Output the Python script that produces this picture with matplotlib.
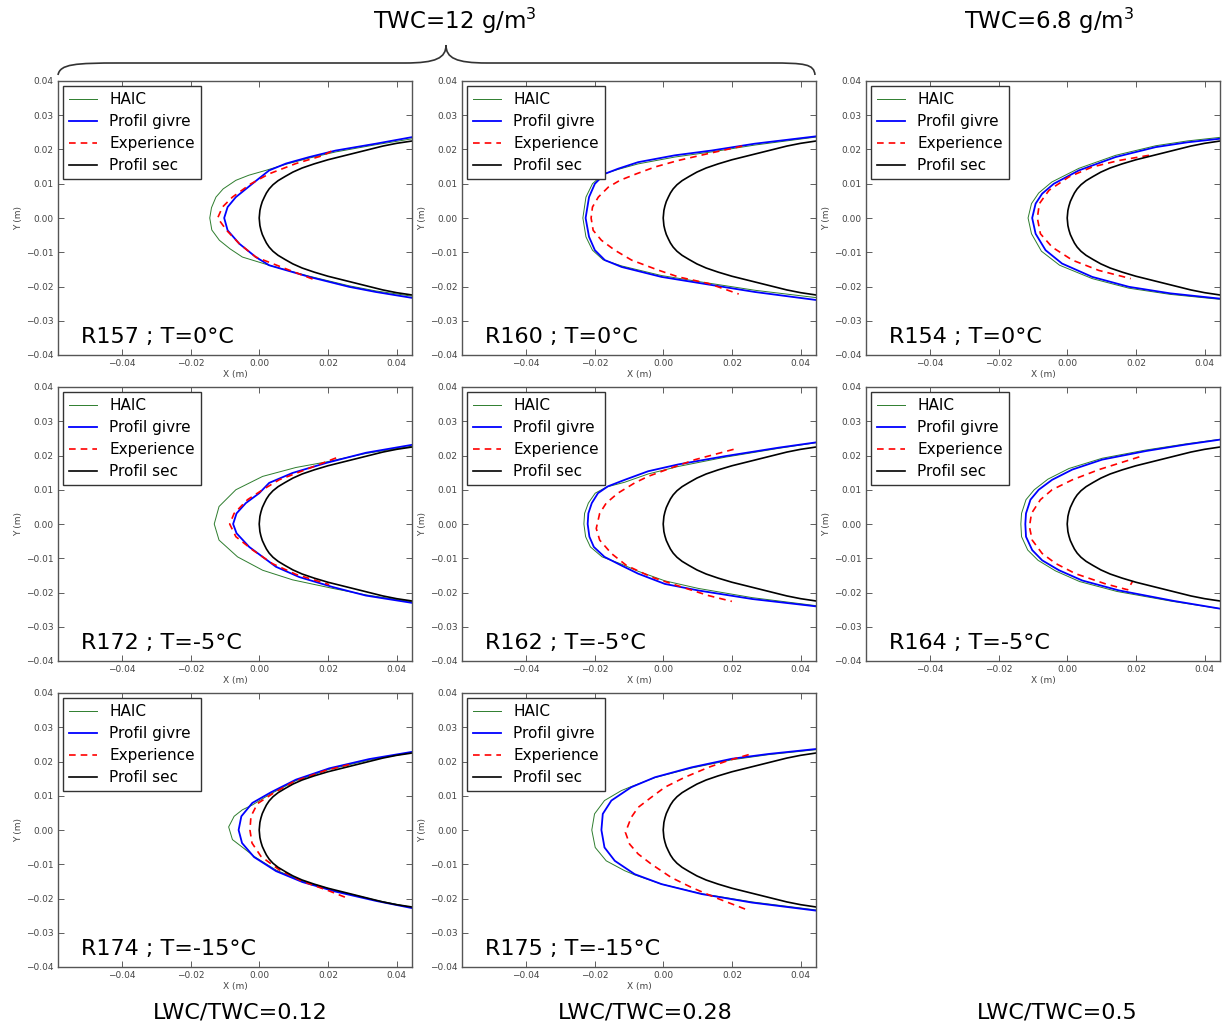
import matplotlib
matplotlib.use("Agg")
import matplotlib.pyplot as plt
from matplotlib.path import Path
from matplotlib.patches import PathPatch
from matplotlib.ticker import FuncFormatter, MultipleLocator

# ---------------- data (x, y) in metres ----------------
PROFIL_SEC = [(0.046, 0.0227), (0.040, 0.0218), (0.036, 0.0210), (0.032, 0.0200), (0.028, 0.0190),
              (0.024, 0.0180), (0.020, 0.0170), (0.016, 0.0158), (0.0125, 0.0146), (0.0098, 0.0134),
              (0.0075, 0.0121), (0.0055, 0.0109), (0.004, 0.0097), (0.0029, 0.0085), (0.0021, 0.0073),
              (0.0015, 0.0061), (0.0009, 0.0048), (0.0005, 0.0035), (0.0002, 0.0022), (0.0, 0.0),
              (0.0002, -0.0022), (0.0005, -0.0035), (0.0009, -0.0048), (0.0015, -0.0061),
              (0.0021, -0.0073), (0.0029, -0.0085), (0.004, -0.0097), (0.0055, -0.0109),
              (0.0075, -0.0121), (0.0098, -0.0134), (0.0125, -0.0146), (0.016, -0.0158),
              (0.020, -0.0170), (0.024, -0.0180), (0.028, -0.0190), (0.032, -0.0200),
              (0.036, -0.0210), (0.040, -0.0218), (0.046, -0.0227)]

R157_HAIC = [(0.045, 0.0232), (0.034, 0.0214), (0.0223, 0.0193), (0.0146, 0.0175), (0.0078, 0.0157),
             (0.0019, 0.0139), (-0.0030, 0.0125), (-0.0068, 0.011), (-0.0105, 0.0085), (-0.0126, 0.0061),
             (-0.0139, 0.003), (-0.0144, 0.0), (-0.0138, -0.0035), (-0.0116, -0.0065), (-0.0085, -0.009),
             (-0.0049, -0.0114), (0.0029, -0.0138), (0.0146, -0.017), (0.0262, -0.0198), (0.034, -0.0213),
             (0.045, -0.0229)]
R157_GIVRE = [(0.045, 0.0237), (0.034, 0.0217), (0.0223, 0.0197), (0.0146, 0.0178), (0.0078, 0.0159),
              (0.0029, 0.0139), (-0.002, 0.010), (-0.0068, 0.0061), (-0.0092, 0.0032), (-0.0102, 0.0),
              (-0.0092, -0.0036), (-0.0058, -0.0075), (-0.001, -0.0114), (0.0029, -0.0138),
              (0.0146, -0.0172), (0.0262, -0.0201), (0.034, -0.0216), (0.045, -0.0234)]
R157_EXP = [(0.021, 0.0195), (0.0184, 0.0182), (0.0107, 0.0159), (0.0029, 0.0129), (-0.0024, 0.010),
            (-0.0078, 0.0061), (-0.0107, 0.0032), (-0.0121, 0.0), (-0.0095, -0.0036), (-0.0058, -0.0075),
            (-0.001, -0.0114), (0.0087, -0.0152), (0.016, -0.0180)]

R160_HAIC = [(0.045, 0.0237), (0.0267, 0.0213), (0.0141, 0.0193), (0.0034, 0.0178), (-0.0073, 0.0158),
             (-0.0131, 0.0142), (-0.0175, 0.0128), (-0.0206, 0.010), (-0.0225, 0.0061), (-0.0234, 0.0),
             (-0.0225, -0.0055), (-0.0206, -0.0094), (-0.0175, -0.0122), (-0.0121, -0.0140),
             (-0.0005, -0.0168), (0.0112, -0.0187), (0.0267, -0.0211), (0.045, -0.0233)]
R160_GIVRE = [(0.045, 0.0239), (0.0267, 0.0217), (0.0141, 0.0197), (0.0034, 0.0183), (-0.0073, 0.0163),
              (-0.0131, 0.0144), (-0.017, 0.0129), (-0.0199, 0.010), (-0.0216, 0.0061), (-0.0226, 0.0),
              (-0.0216, -0.0055), (-0.0199, -0.0094), (-0.017, -0.0123), (-0.0121, -0.0143),
              (-0.0005, -0.0172), (0.0112, -0.0191), (0.0267, -0.0216), (0.045, -0.0240)]
R160_EXP = [(0.023, 0.021), (0.0131, 0.0188), (0.0044, 0.0168), (-0.0024, 0.0149), (-0.0078, 0.0129),
            (-0.0126, 0.011), (-0.016, 0.009), (-0.0189, 0.0061), (-0.0206, 0.0032), (-0.021, 0.0),
            (-0.0204, -0.0036), (-0.018, -0.0065), (-0.0141, -0.0094), (-0.0092, -0.0123),
            (-0.0015, -0.0152), (0.0044, -0.0172), (0.0131, -0.0191), (0.022, -0.0222)]

R154_HAIC = [(0.045, 0.0236), (0.035, 0.0225), (0.0258, 0.0211), (0.0141, 0.0183), (0.0034, 0.0145),
             (-0.0045, 0.0105), (-0.0083, 0.0073), (-0.0104, 0.0042), (-0.0114, 0.0), (-0.0104, -0.0046),
             (-0.0075, -0.0097), (-0.0022, -0.0138), (0.0073, -0.0177), (0.018, -0.0205),
             (0.030, -0.0223), (0.045, -0.0238)]
R154_GIVRE = [(0.045, 0.0232), (0.035, 0.0221), (0.0258, 0.0207), (0.0141, 0.0178), (0.0034, 0.0139),
              (-0.0039, 0.010), (-0.0073, 0.0071), (-0.0092, 0.0042), (-0.0102, 0.0), (-0.0092, -0.0046),
              (-0.0063, -0.0094), (-0.0015, -0.0133), (0.0073, -0.0172), (0.018, -0.0201),
              (0.030, -0.0220), (0.045, -0.0236)]
R154_EXP = [(0.0238, 0.0183), (0.0151, 0.0168), (0.0073, 0.0149), (0.0005, 0.012), (-0.0053, 0.0081),
            (-0.0081, 0.0042), (-0.0087, 0.0), (-0.0078, -0.0046), (-0.0044, -0.0085), (0.0015, -0.0123),
            (0.0092, -0.0153), (0.0185, -0.0177)]

R172_HAIC = [(0.045, 0.0228), (0.0311, 0.0206), (0.0194, 0.0181), (0.0107, 0.0165), (0.001, 0.0139),
             (-0.0068, 0.010), (-0.0117, 0.0051), (-0.0131, 0.0), (-0.0117, -0.0047), (-0.0063, -0.0096),
             (0.001, -0.0135), (0.0097, -0.0163), (0.0214, -0.0188), (0.0311, -0.0207), (0.045, -0.0228)]
R172_GIVRE = [(0.045, 0.0232), (0.0311, 0.0208), (0.0194, 0.0178), (0.0097, 0.0149), (0.0029, 0.012),
              (0.0, 0.009), (-0.0039, 0.0061), (-0.0066, 0.0031), (-0.0076, 0.0), (-0.0066, -0.0027),
              (-0.0029, -0.0067), (0.001, -0.0096), (0.0049, -0.0125), (0.0117, -0.0155),
              (0.0214, -0.0184), (0.0311, -0.0209), (0.045, -0.0231)]
R172_EXP = [(0.0224, 0.0193), (0.0136, 0.0159), (0.0058, 0.0129), (0.001, 0.010), (-0.0034, 0.0071),
            (-0.0073, 0.0031), (-0.0086, 0.0), (-0.0068, -0.0037), (-0.0019, -0.0076), (0.0039, -0.0116),
            (0.0107, -0.0147), (0.0204, -0.0177)]

R162_HAIC = [(0.045, 0.0238), (0.0337, 0.0221), (0.018, 0.0195), (0.0044, 0.0168), (-0.0044, 0.0146),
             (-0.0112, 0.0122), (-0.0165, 0.0108), (-0.0198, 0.009), (-0.0218, 0.0061), (-0.0229, 0.0031),
             (-0.0231, 0.0), (-0.0226, -0.0037), (-0.0212, -0.0067), (-0.0178, -0.0096),
             (-0.0122, -0.0117), (-0.0073, -0.0138), (0.0005, -0.0166), (0.0102, -0.0188),
             (0.0259, -0.0215), (0.045, -0.0239)]
R162_GIVRE = [(0.045, 0.0239), (0.0337, 0.0223), (0.018, 0.0198), (0.0044, 0.0174), (-0.0044, 0.0154),
              (-0.0112, 0.0129), (-0.0161, 0.011), (-0.019, 0.009), (-0.0208, 0.0061), (-0.0218, 0.0031),
              (-0.022, 0.0), (-0.0215, -0.0037), (-0.0202, -0.0067), (-0.0171, -0.0096),
              (-0.0122, -0.0121), (-0.0073, -0.0145), (0.0005, -0.0175), (0.0102, -0.0194),
              (0.0259, -0.0219), (0.045, -0.0241)]
R162_EXP = [(0.0205, 0.0218), (0.0093, 0.0188), (0.0024, 0.0164), (-0.0044, 0.0139), (-0.0083, 0.012),
            (-0.0132, 0.009), (-0.0166, 0.0061), (-0.0185, 0.0031), (-0.0195, -0.0013), (-0.0185, -0.0047),
            (-0.0151, -0.0086), (-0.0107, -0.0121), (-0.0034, -0.0155), (0.0054, -0.0184),
            (0.0132, -0.0209), (0.020, -0.0226)]

R164_HAIC = [(0.045, 0.0248), (0.0346, 0.0234), (0.0229, 0.0216), (0.0102, 0.0192), (0.0005, 0.0162),
             (-0.0056, 0.0131), (-0.0096, 0.010), (-0.012, 0.0071), (-0.0133, 0.0031), (-0.0135, 0.0),
             (-0.0133, -0.0037), (-0.0115, -0.0076), (-0.0085, -0.0106), (-0.0034, -0.0137),
             (0.0036, -0.0168), (0.0145, -0.0197), (0.0307, -0.0226), (0.045, -0.0248)]
R164_GIVRE = [(0.045, 0.0247), (0.0346, 0.0232), (0.0229, 0.0213), (0.0102, 0.0188), (0.0015, 0.0159),
              (-0.0044, 0.0129), (-0.0083, 0.010), (-0.0107, 0.0071), (-0.012, 0.0031), (-0.0122, 0.0),
              (-0.012, -0.0037), (-0.0102, -0.0076), (-0.0073, -0.0106), (-0.0024, -0.0135),
              (0.0044, -0.0165), (0.0151, -0.0194), (0.0307, -0.0224), (0.045, -0.0248)]
R164_EXP = [(0.021, 0.0196), (0.0093, 0.0159), (0.0015, 0.0129), (-0.0044, 0.010), (-0.0078, 0.0071),
            (-0.0104, 0.0031), (-0.011, -0.0008), (-0.0102, -0.0047), (-0.0073, -0.0086),
            (-0.0034, -0.0115), (0.0024, -0.0145), (0.0112, -0.0175), (0.0176, -0.0192), (0.019, -0.0168)]

R174_HAIC = [(0.045, 0.0227), (0.032, 0.0204), (0.0204, 0.0177), (0.0107, 0.0144), (0.0034, 0.0106),
             (-0.002, 0.0073), (-0.0049, 0.0059), (-0.0073, 0.004), (-0.0089, 0.0009), (-0.0078, -0.0028),
             (-0.0039, -0.0058), (-0.0015, -0.0077), (0.0049, -0.0117), (0.0126, -0.0149),
             (0.0223, -0.0177), (0.034, -0.0205), (0.045, -0.0227)]
R174_GIVRE = [(0.045, 0.0229), (0.032, 0.0207), (0.0204, 0.0180), (0.0107, 0.0147), (0.0034, 0.0110),
              (-0.002, 0.0079), (-0.0052, 0.004), (-0.006, 0.0), (-0.005, -0.0038), (-0.0015, -0.0079),
              (0.0049, -0.0120), (0.0126, -0.0152), (0.0223, -0.0180), (0.034, -0.0207), (0.045, -0.0229)]
R174_EXP = [(0.0262, 0.0191), (0.0194, 0.0174), (0.0102, 0.0142), (0.0039, 0.0106), (-0.0005, 0.0077),
            (-0.0024, 0.004), (-0.0027, 0.0), (-0.0021, -0.0038), (0.0005, -0.0077), (0.0058, -0.0116),
            (0.0126, -0.0150), (0.0204, -0.0178), (0.0252, -0.0197)]

R175_HAIC = [(0.045, 0.0235), (0.0307, 0.0220), (0.02, 0.0205), (0.0083, 0.0181), (-0.0024, 0.0153),
             (-0.01, 0.0124), (-0.0122, 0.0115), (-0.0171, 0.0086), (-0.020, 0.0047), (-0.0208, 0.0),
             (-0.0198, -0.0051), (-0.0166, -0.009), (-0.0112, -0.0119), (-0.0083, -0.0131),
             (-0.0005, -0.0158), (0.0112, -0.0186), (0.0259, -0.021), (0.045, -0.0234)]
R175_GIVRE = [(0.045, 0.0237), (0.0307, 0.0222), (0.02, 0.0208), (0.0083, 0.0183), (-0.0024, 0.0154),
              (-0.0093, 0.0125), (-0.0151, 0.0086), (-0.0176, 0.0047), (-0.018, 0.0), (-0.0171, -0.0051),
              (-0.0141, -0.009), (-0.0083, -0.0129), (-0.0005, -0.0158), (0.0112, -0.0187),
              (0.0259, -0.0212), (0.045, -0.0236)]
R175_EXP = [(0.0249, 0.022), (0.019, 0.0203), (0.0132, 0.0183), (0.0063, 0.0154), (0.0005, 0.0125),
            (-0.0034, 0.0096), (-0.0073, 0.0066), (-0.0093, 0.0037), (-0.011, -0.0007), (-0.0098, -0.0041),
            (-0.0073, -0.007), (-0.0034, -0.01), (0.0024, -0.0139), (0.0083, -0.0168),
            (0.0151, -0.0197), (0.0239, -0.0231)]

PANEL_TITLES = ["R157 ; T=0°C", "R160 ; T=0°C", "R154 ; T=0°C",
                "R172 ; T=-5°C", "R162 ; T=-5°C", "R164 ; T=-5°C",
                "R174 ; T=-15°C", "R175 ; T=-15°C"]
LEGEND_LABELS = ["HAIC", "Profil givre", "Experience", "Profil sec"]
TOP_LABELS = ["TWC=12 g/m$^3$", "TWC=6.8 g/m$^3$"]
BOTTOM_LABELS = ["LWC/TWC=0.12", "LWC/TWC=0.28", "LWC/TWC=0.5"]

panels = [
    (0, 0, R157_HAIC, R157_GIVRE, R157_EXP),
    (0, 1, R160_HAIC, R160_GIVRE, R160_EXP),
    (0, 2, R154_HAIC, R154_GIVRE, R154_EXP),
    (1, 0, R172_HAIC, R172_GIVRE, R172_EXP),
    (1, 1, R162_HAIC, R162_GIVRE, R162_EXP),
    (1, 2, R164_HAIC, R164_GIVRE, R164_EXP),
    (2, 0, R174_HAIC, R174_GIVRE, R174_EXP),
    (2, 1, R175_HAIC, R175_GIVRE, R175_EXP),
]

# ---------------- layout ----------------
W, H = 1225, 1028
fig = plt.figure(figsize=(W / 100, H / 100), dpi=100)
fig.patch.set_facecolor("white")
col_left = [58, 462, 866]
row_top = [81, 387, 693]
aw, ah = 354, 274


def unzip(pts):
    return [p[0] for p in pts], [p[1] for p in pts]


def fmt(v, pos):
    s = "%.2f" % v
    if s.startswith("-"):
        s = "\u2212" + s[1:]
    if s == "\u22120.00":
        s = "0.00"
    return s


for idx, (r, c, haic, givre, exp) in enumerate(panels):
    ax = fig.add_axes([col_left[c] / W, 1 - (row_top[r] + ah) / H, aw / W, ah / H])
    hx, hy = unzip(haic)
    gx, gy = unzip(givre)
    ex, ey = unzip(exp)
    sx, sy = unzip(PROFIL_SEC)
    l1, = ax.plot(hx, hy, color="#2e7d2e", lw=0.7)
    l2, = ax.plot(gx, gy, color="#0000ff", lw=1.3)
    l3, = ax.plot(ex, ey, color="#ff0000", lw=1.2, ls=(0, (4, 3)))
    l4, = ax.plot(sx, sy, color="black", lw=1.2)
    ax.set_xlim(-0.0586, 0.0445)
    ax.set_ylim(-0.04, 0.04)
    ax.xaxis.set_major_locator(MultipleLocator(0.02))
    ax.yaxis.set_major_locator(MultipleLocator(0.01))
    ax.xaxis.set_major_formatter(FuncFormatter(fmt))
    ax.yaxis.set_major_formatter(FuncFormatter(fmt))
    ax.tick_params(direction="in", top=True, right=True, length=4, width=0.6,
                   labelsize=6.5, colors="#444444", pad=3)
    for sp in ax.spines.values():
        sp.set_color("#555555")
        sp.set_linewidth(1.0)
    ax.set_xlabel("X (m)", fontsize=6.5, color="#444444", labelpad=1)
    ax.set_ylabel("Y (m)", fontsize=6.5, color="#444444", labelpad=2)
    leg = ax.legend([l1, l2, l3, l4], LEGEND_LABELS, loc="upper left", fontsize=11,
                    fancybox=False, framealpha=1, edgecolor="#333333",
                    borderaxespad=0.35, labelspacing=0.45, handlelength=1.8,
                    handletextpad=0.8, borderpad=0.4)
    leg.get_frame().set_linewidth(1.0)
    ax.text(0.065, 0.044, PANEL_TITLES[idx], transform=ax.transAxes, fontsize=16,
            va="baseline", ha="left", color="black")

# top labels
top_font = ["Liberation Sans Narrow", "DejaVu Sans"]
fig.text(455 / W, 1 - 21 / H, TOP_LABELS[0], ha="center", va="center", fontsize=16.5,
         family=top_font)
fig.text(1049 / W, 1 - 21 / H, TOP_LABELS[1], ha="center", va="center", fontsize=16.5,
         family=top_font)

# brace
bp = [(58, 75), (60, 64), (75, 63), (120, 63), (405, 63), (436, 63), (446, 58), (446, 45),
      (446, 58), (456, 63), (487, 63), (770, 63), (805, 63), (814, 64), (815, 75)]
codes = [Path.MOVETO, Path.CURVE4, Path.CURVE4, Path.CURVE4, Path.LINETO,
         Path.CURVE4, Path.CURVE4, Path.CURVE4, Path.CURVE4, Path.CURVE4, Path.CURVE4,
         Path.LINETO, Path.CURVE4, Path.CURVE4, Path.CURVE4]
verts = [(x / W, 1 - y / H) for x, y in bp]
fig.patches.append(PathPatch(Path(verts, codes), transform=fig.transFigure,
                             facecolor="none", edgecolor="#333333", lw=1.2))

# bottom labels
for xc, lab in zip([240, 645, 1057], BOTTOM_LABELS):
    fig.text(xc / W, 1 - 1013 / H, lab, ha="center", va="center", fontsize=16)

fig.savefig("out.png", dpi=100, facecolor="white")
